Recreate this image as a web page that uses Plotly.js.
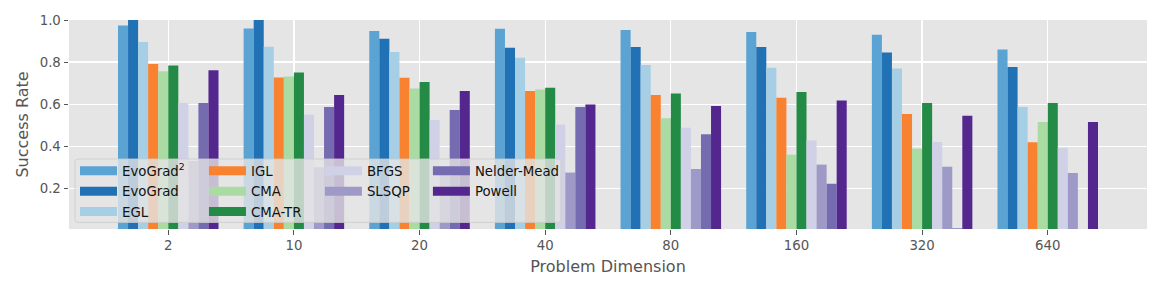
<!DOCTYPE html>
<html>
<head>
<meta charset="utf-8">
<script src="https://cdn.plot.ly/plotly-3.0.1.min.js"></script>
<style>html,body{margin:0;padding:0;background:#fff;}#chart{width:1163px;height:291px;}</style>
</head>
<body>
<div id="chart"></div>
<script>
// Categories (problem dimension)
const categories = ['2', '10', '20', '40', '80', '160', '320', '640'];

// Series names (legend labels)
const seriesNames = ['EvoGrad<sup>2</sup>', 'EvoGrad', 'EGL', 'IGL', 'CMA', 'CMA-TR', 'BFGS', 'SLSQP', 'Nelder-Mead', 'Powell'];

// Success rate values per series
const evoGrad2   = [0.974, 0.960, 0.948, 0.959, 0.952, 0.943, 0.930, 0.860];
const evoGrad    = [1.000, 1.000, 0.911, 0.868, 0.872, 0.872, 0.845, 0.777];
const egl        = [0.895, 0.873, 0.848, 0.821, 0.786, 0.773, 0.769, 0.587];
const igl        = [0.791, 0.727, 0.726, 0.663, 0.644, 0.631, 0.553, 0.419];
const cma        = [0.756, 0.731, 0.674, 0.670, 0.533, 0.360, 0.389, 0.515];
const cmaTR      = [0.784, 0.750, 0.705, 0.678, 0.651, 0.658, 0.606, 0.606];
const bfgs       = [0.606, 0.550, 0.525, 0.504, 0.488, 0.428, 0.420, 0.393];
const slsqp      = [0.330, 0.300, 0.300, 0.275, 0.292, 0.313, 0.303, 0.273];
const nelderMead = [0.606, 0.587, 0.572, 0.587, 0.457, 0.222, 0.010, 0.000];
const powell     = [0.761, 0.644, 0.663, 0.598, 0.591, 0.617, 0.545, 0.515];

// Y tick values
const yTicks = [0.2, 0.4, 0.6, 0.8, 1.0];

const seriesValues = [evoGrad2, evoGrad, egl, igl, cma, cmaTR, bfgs, slsqp, nelderMead, powell];
const colors = ['#5ba3d3', '#2171b5', '#a6cfe6', '#f8822f', '#a9dba2', '#238b45', '#d0d1e6', '#9e9ac8', '#756bb1', '#54278f'];
// legend column assignment (matplotlib ncol=4, column-major)
const legendCol = ['legend', 'legend', 'legend', 'legend2', 'legend2', 'legend2', 'legend3', 'legend3', 'legend4', 'legend4'];

const traces = [];
seriesValues.forEach((vals, i) => {
  traces.push({
    type: 'bar', x: categories, y: vals, name: seriesNames[i],
    marker: {color: colors[i], line: {width: 0}},
    showlegend: false, hoverinfo: 'x+y+name'
  });
});
// legend-only entries (wide swatches like matplotlib)
seriesValues.forEach((vals, i) => {
  traces.push({
    type: 'scatter', mode: 'lines', x: [null], y: [null], name: seriesNames[i],
    line: {color: colors[i], width: 9}, legend: legendCol[i], showlegend: true, hoverinfo: 'skip'
  });
});

const L = 69, R = 1147.3, T = 20.3, B = 229.3;
const W = R - L, H = B - T;
const px = v => (v - L) / W;
const py = v => (B - v) / H;

// rounded legend box
const bx0 = px(75), bx1 = px(561), by0 = py(222.7), by1 = py(159.3);
const rx = 3 / W, ry = 3 / H;
const boxPath = `M${bx0 + rx},${by0} L${bx1 - rx},${by0} Q${bx1},${by0} ${bx1},${by0 + ry} L${bx1},${by1 - ry} Q${bx1},${by1} ${bx1 - rx},${by1} L${bx0 + rx},${by1} Q${bx0},${by1} ${bx0},${by1 - ry} L${bx0},${by0 + ry} Q${bx0},${by0} ${bx0 + rx},${by0} Z`;

const legendFont = {family: 'DejaVu Sans', size: 13.3, color: '#111'};
const legendBase = (x) => ({
  x: px(x), y: py(156), xanchor: 'left', yanchor: 'top', orientation: 'v',
  bgcolor: 'rgba(0,0,0,0)', borderwidth: 0, font: legendFont, tracegroupgap: 0,
  itemwidth: 37, itemclick: false
});

const layout = {
  width: 1163, height: 291,
  margin: {l: L, r: 1163 - R, t: T, b: 291 - B, pad: 0},
  paper_bgcolor: '#ffffff', plot_bgcolor: '#e5e5e5',
  font: {family: 'DejaVu Sans', size: 13.3, color: '#555555'},
  barmode: 'group', bargap: 0.2, bargroupgap: 0,
  xaxis: {
    type: 'category', categoryorder: 'array', categoryarray: categories,
    range: [-0.79, 7.79], showgrid: true, gridcolor: '#ffffff', gridwidth: 1.3,
    ticks: 'outside', ticklen: 4.5, tickwidth: 1, tickcolor: '#555555',
    tickfont: {family: 'DejaVu Sans', size: 13.3, color: '#555555'},
    showline: false, zeroline: false,
    title: {text: 'Problem Dimension', font: {family: 'DejaVu Sans', size: 16, color: '#555555'}, standoff: 8}
  },
  yaxis: {
    range: [0.007, 1.0], tickvals: yTicks, tickformat: '.1f',
    showgrid: true, gridcolor: '#ffffff', gridwidth: 1.3,
    ticks: 'outside', ticklen: 4.5, tickwidth: 1, tickcolor: '#555555',
    tickfont: {family: 'DejaVu Sans', size: 13.3, color: '#555555'},
    showline: false, zeroline: false,
    title: {text: 'Success Rate', font: {family: 'DejaVu Sans', size: 16, color: '#555555'}, standoff: 7}
  },
  shapes: [{
    type: 'path', xref: 'paper', yref: 'paper', path: boxPath, layer: 'above',
    fillcolor: 'rgba(229,229,229,0.8)', line: {color: 'rgba(204,204,204,0.8)', width: 1}
  }],
  legend: legendBase(75),
  legend2: legendBase(204),
  legend3: legendBase(320),
  legend4: legendBase(428),
  showlegend: true
};

Plotly.newPlot('chart', traces, layout, {displayModeBar: false, staticPlot: true});
</script>
</body>
</html>
